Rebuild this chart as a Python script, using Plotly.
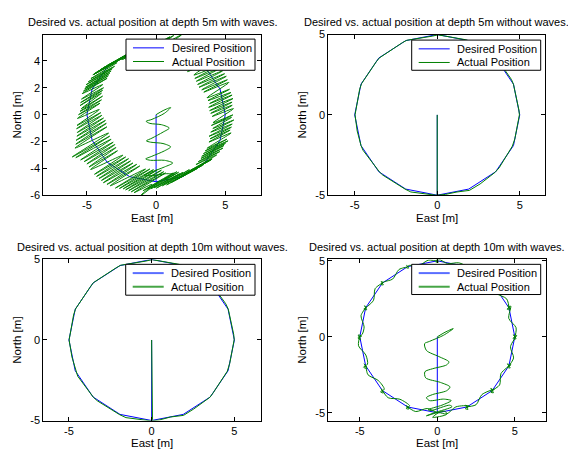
import plotly.graph_objects as go

# Desired trajectory (waypoints, metres): dive to (0,-5) then 16-sided circle of radius 5
DES_E = [0, 0, 1.91, 3.54, 4.62, 5, 4.62, 3.54, 1.91, 0, -1.91, -3.54, -4.62, -5, -4.62, -3.54, -1.91, 0]
DES_N = [0, -5, -4.62, -3.54, -1.91, 0, 1.91, 3.54, 4.62, 5, 4.62, 3.54, 1.91, 0, -1.91, -3.54, -4.62, -5]

# Actual position, depth 5 m with waves
ACT_5W = [
    (0, 0), (0.5, 0.3), (1.05, 0.53), (0.6, 0.1), (-0.3, -0.35), (-0.72, -0.5), (-0.45, -0.65), (0.4, -0.75),
    (0.95, -1.0), (0.5, -1.3), (-0.3, -1.75), (-0.7, -1.95), (-0.4, -2.05), (0.5, -2.15), (1.05, -2.4), (0.6, -2.7),
    (-0.3, -3.1), (-0.75, -3.3), (-0.4, -3.4), (0.6, -3.4), (1.2, -3.6), (0.6, -3.9), (-0.4, -4.3), (-0.8, -4.5),
    (-0.3, -4.55), (0.7, -4.4), (1.3, -4.45), (0.6, -4.8),
    (1.24, -4.34), (-0.95, -5.67), (1.5, -4.25), (-0.6, -5.55), (1.63, -4.29), (-0.38, -5.52), (1.7, -4.4), (-0.15, -5.45),
    (1.94, -4.30), (0.01, -5.48), (2.4, -4.1), (0.45, -5.3), (2.68, -4.05), (0.76, -5.23),
    (2.97, -4.02), (1.09, -5.05), (3.3, -3.8), (1.45, -4.85), (3.46, -3.70), (1.76, -4.63), (3.8, -3.45), (1.85, -4.55),
    (3.95, -3.38), (1.99, -4.46), (4.05, -3.3), (2.25, -4.3), (4.01, -3.31), (2.48, -4.15),
    (4.38, -3.0), (2.88, -3.72), (4.6, -2.75), (3.05, -3.5), (4.83, -2.49), (3.24, -3.26), (4.9, -2.3), (3.3, -3.1),
    (5.01, -2.14), (3.42, -2.90), (5.2, -1.95), (3.55, -2.7), (5.11, -1.83), (3.69, -2.50),
    (5.42, -1.36), (3.82, -2.04), (5.35, -1.15), (3.9, -1.8), (5.44, -0.93), (3.83, -1.61), (5.5, -0.7), (3.95, -1.3),
    (5.61, -0.40), (4.10, -1.03), (5.45, -0.2), (4.0, -0.8), (5.54, -0.02), (4.11, -0.60),
    (5.59, 0.45), (4.06, -0.13), (5.5, 0.7), (3.95, 0.1), (5.49, 0.93), (3.87, 0.30), (5.55, 1.2), (3.8, 0.55),
    (5.49, 1.46), (3.87, 0.83), (5.4, 1.65), (3.75, 1.05), (5.30, 1.89), (3.68, 1.26),
    (5.26, 2.40), (3.45, 1.68), (5.15, 2.6), (3.3, 1.85), (5.07, 2.86), (3.10, 2.04), (4.95, 3.05), (3.0, 2.25),
    (4.80, 3.26), (2.91, 2.49), (4.6, 3.45), (2.8, 2.7), (4.45, 3.62), (2.73, 2.95),
    (4.31, 4.10), (2.27, 3.21), (3.90, 4.36), (1.78, 3.43), (3.59, 4.68), (1.46, 3.75), (3.09, 4.90), (0.97, 3.97),
    (2.93, 5.28), (0.51, 4.10), (2.54, 5.43), (-0.06, 4.15), (2.15, 5.57), (-0.45, 4.29), (1.84, 5.95), (-0.85, 4.44),
    (1.28, 5.9), (-1.49, 4.29), (1.0, 5.8), (-1.7, 4.3), (0.72, 5.62), (-1.88, 4.24), (0.45, 5.6), (-2.2, 4.15),
    (0.15, 5.48), (-2.45, 4.10), (-0.1, 5.45), (-2.6, 4.1), (-0.42, 5.33), (-2.84, 4.05),
    (-0.88, 5.20), (-3.53, 3.67), (-1.1, 5.0), (-3.8, 3.5), (-1.38, 4.88), (-4.02, 3.36), (-1.7, 4.7), (-4.25, 3.2),
    (-1.95, 4.51), (-4.42, 3.09), (-2.2, 4.35), (-4.5, 3.0), (-2.45, 4.19), (-4.57, 2.97),
    (-2.82, 3.88), (-4.71, 2.69), (-3.0, 3.6), (-4.9, 2.45), (-3.17, 3.42), (-5.06, 2.23), (-3.25, 3.25), (-5.1, 2.05),
    (-3.36, 3.07), (-5.16, 1.92), (-3.45, 2.9), (-5.25, 1.75), (-3.54, 2.71), (-5.34, 1.57),
    (-3.86, 2.24), (-5.39, 1.16), (-3.8, 2.0), (-5.45, 0.9), (-3.87, 1.81), (-5.49, 0.68), (-3.95, 1.6), (-5.4, 0.45),
    (-3.87, 1.38), (-5.49, 0.25), (-3.95, 1.1), (-5.6, 0.0), (-4.06, 0.85), (-5.68, -0.28),
    (-4.11, 0.38), (-5.71, -0.80), (-4.0, 0.15), (-5.75, -1.05), (-3.92, -0.05), (-5.70, -1.33), (-3.8, -0.25), (-5.72, -1.6),
    (-3.66, -0.43), (-5.78, -1.91), (-3.6, -0.65), (-5.8, -2.2), (-3.56, -0.91), (-5.86, -2.49),
    (-3.43, -1.37), (-6.06, -3.15), (-3.35, -1.6), (-5.8, -3.2), (-3.25, -1.83), (-5.45, -3.37), (-3.1, -2.05), (-5.2, -3.5),
    (-2.98, -2.23), (-5.0, -3.67), (-2.9, -2.45), (-4.85, -3.9), (-2.79, -2.69), (-4.73, -4.08),
    (-2.40, -3.02), (-4.45, -4.44), (-2.2, -3.15), (-4.3, -4.6), (-1.99, -3.28), (-4.13, -4.76), (-1.85, -3.45), (-3.95, -4.9),
    (-1.67, -3.60), (-3.81, -5.07), (-1.4, -3.7), (-3.55, -5.2), (-1.18, -3.82), (-3.32, -5.30),
    (-0.76, -4.05), (-2.94, -5.47), (-0.45, -4.05), (-2.65, -5.5), (-0.19, -4.10), (-2.38, -5.53), (0.1, -4.1), (-2.2, -5.6),
    (0.38, -4.14), (-1.98, -5.66), (0.55, -4.25), (-1.8, -5.75), (0.68, -4.34), (-1.59, -5.81),
    (-0.3, -5.2), (-1.2, -6.1), (0.2, -5.0),
]

# Actual position, depth 5 m without waves
ACT_5 = [
    (0, 0), (0.02, -2.5), (0.04, -4.9), (0.0, -5.0), (0.5, -4.95), (1.2, -4.8), (1.95, -4.7), (2.6, -4.3),
    (3.5, -3.58), (3.75, -3.3), (4.55, -1.95), (4.7, -1.5), (4.98, 0.0), (4.95, 0.3), (4.62, 1.9), (4.5, 2.2),
    (3.58, 3.55), (3.4, 3.7), (1.95, 4.6), (1.7, 4.68), (0.05, 4.98), (-0.3, 4.9), (-1.85, 4.64), (-2.1, 4.5),
    (-3.5, 3.55), (-3.7, 3.3), (-4.58, 1.95), (-4.7, 1.6), (-4.98, 0.0), (-4.85, -1.0), (-4.62, -1.9), (-4.5, -2.2),
    (-3.5, -3.55), (-3.3, -3.75), (-1.95, -4.62), (-1.6, -4.8), (-0.1, -5.0), (0, -5.0),
]

# Actual position, depth 10 m without waves
ACT_10 = [
    (0, 0), (0.03, -2.5), (0.05, -4.95), (0.0, -5.02), (0.45, -4.97), (1.15, -4.78), (1.93, -4.68), (2.55, -4.28),
    (3.52, -3.56), (3.72, -3.28), (4.57, -1.94), (4.72, -1.45), (4.99, 0.02), (4.96, 0.35), (4.63, 1.92), (4.48, 2.25),
    (3.56, 3.56), (3.38, 3.72), (1.93, 4.62), (1.65, 4.7), (0.02, 4.99), (-0.35, 4.9), (-1.88, 4.64), (-2.15, 4.48),
    (-3.52, 3.56), (-3.72, 3.28), (-4.6, 1.93), (-4.72, 1.55), (-4.99, 0.0), (-4.82, -1.05), (-4.6, -1.92), (-4.47, -2.25),
    (-3.52, -3.56), (-3.28, -3.78), (-1.93, -4.64), (-1.55, -4.82), (-0.05, -5.02), (0, -5.0),
]

# Actual position, depth 10 m with waves
ACT_10W = [
    (0, 0), (0.5, 0.3), (1.03, 0.54), (0.4, 0.1), (-0.5, -0.3), (-0.82, -0.45), (-0.7, -0.9), (0.1, -1.3),
    (0.75, -1.65), (0.6, -1.85), (-0.3, -2.1), (-0.8, -2.3), (-0.75, -2.7), (0.2, -3.0), (0.82, -3.3), (0.6, -3.55),
    (-0.3, -3.8), (-0.7, -4.0), (-0.5, -4.2), (0.4, -4.1), (0.9, -4.2), (0.3, -4.5), (-0.6, -4.8), (-0.4, -4.85),
    (0.8, -4.5), (0.95, -4.6), (-0.2, -5.0), (-0.7, -5.2), (0.5, -4.9), (0.6, -5.1), (-0.3, -5.3), (0.1, -5.0),
    (0.60, -5.08), (1.20, -4.61),
    (2.05, -4.55), (1.80, -4.72), (1.98, -4.78), (1.82, -4.50), (2.0, -4.6), (1.85, -4.68), (1.93, -4.62),
    (2.50, -4.47), (2.88, -3.80),
    (3.68, -3.45), (3.44, -3.64), (3.62, -3.68), (3.45, -3.40), (3.6, -3.5), (3.5, -3.6), (3.55, -3.53),
    (4.02, -3.17), (4.11, -2.41),
    (4.76, -1.82), (4.52, -2.0), (4.70, -2.05), (4.52, -1.78), (4.68, -1.88), (4.58, -1.96), (4.63, -1.9),
    (4.92, -1.39), (4.72, -0.65),
    (5.12, 0.1), (4.88, -0.1), (5.08, -0.14), (4.9, 0.13), (5.05, 0.02), (4.95, -0.05), (5.0, 0.0),
    (5.08, 0.60), (4.61, 1.21),
    (4.74, 2.02), (4.5, 1.82), (4.7, 1.78), (4.55, 2.05), (4.68, 1.95), (4.58, 1.86), (4.62, 1.92),
    (4.47, 2.50), (3.80, 2.88),
    (3.6, 3.6), (3.48, 3.5), (3.54, 3.54),
    (3.14, 3.98), (2.43, 4.16),
    (1.98, 4.68), (1.85, 4.57), (1.91, 4.62),
    (1.38, 4.87), (0.66, 4.82),
    (0.12, 5.08), (-0.1, 4.92), (0.08, 4.92), (-0.06, 5.06), (0, 5),
    (-0.59, 5.04), (-1.22, 4.66),
    (-1.8, 4.7), (-2.0, 4.55), (-1.85, 4.52), (-1.98, 4.7), (-1.88, 4.6), (-1.95, 4.66), (-1.91, 4.62),
    (-2.47, 4.43), (-2.88, 3.80),
    (-3.42, 3.62), (-3.64, 3.45), (-3.48, 3.42), (-3.62, 3.64), (-3.5, 3.58), (-3.58, 3.5), (-3.54, 3.54),
    (-4.01, 3.17), (-4.11, 2.41),
    (-4.5, 2.0), (-4.74, 1.82), (-4.55, 1.78), (-4.7, 2.04), (-4.58, 1.95), (-4.66, 1.86), (-4.62, 1.91),
    (-4.92, 1.39), (-4.72, 0.65),
    (-4.85, 0.15), (-5.12, -0.08), (-4.95, -0.18), (-5.1, 0.12), (-4.9, 0.05), (-5.05, -0.1), (-4.95, 0.08), (-5, 0),
    (-5.08, -0.59), (-4.61, -1.20),
    (-4.5, -1.8), (-4.76, -2.0), (-4.55, -2.08), (-4.72, -1.78), (-4.58, -1.95), (-4.66, -1.86), (-4.62, -1.9),
    (-4.47, -2.50), (-3.80, -2.88),
    (-3.42, -3.45), (-3.66, -3.62), (-3.48, -3.7), (-3.62, -3.42), (-3.5, -3.58), (-3.58, -3.5), (-3.54, -3.54),
    (-3.17, -4.01), (-2.41, -4.11),
    (-1.78, -4.55), (-2.02, -4.7), (-1.85, -4.76), (-1.98, -4.52), (-1.88, -4.66), (-1.95, -4.58), (-1.91, -4.62),
    (-1.39, -4.92), (-0.65, -4.72), (0, -5.0),
]

TITLES = [
    "Desired vs. actual position at depth 5m with waves.",
    "Desired vs. actual position at depth 5m without waves.",
    "Desired vs. actual position at depth 10m without waves.",
    "Desired vs. actual position at depth 10m with waves.",
]
LEGEND_NAMES = ["Desired Position", "Actual Position"]
X_TICKS = [-5, 0, 5]
Y_TICKS = [[-6, -4, -2, 0, 2, 4], [-5, 0, 5], [-5, 0, 5], [-5, 0, 5]]
X_RANGES = [[-8.15, 7.58], [-6.6, 6.53], [-6.55, 6.61], [-7.03, 7.03]]
Y_RANGES = [[-6.0, 5.97], [-5.0, 5.0], [-5.0, 5.0], [-5.51, 5.09]]
ACTUALS = [ACT_5W, ACT_5, ACT_10, ACT_10W]
WAVY = [True, False, False, True]

W, H = 568, 457
# axes boxes in pixels: (left, right, top, bottom)
BOXES = [(43.3, 261.0, 29.3, 194.3), (328.3, 545.0, 29.3, 194.3),
         (43.3, 261.0, 260.3, 425.7), (328.3, 546.3, 260.3, 425.7)]
# legend boxes in pixels: (left, top, right, bottom)
LEGEND_BOXES = [(126, 34, 255, 66), (411.7, 35, 540.7, 66),
                (125.7, 265.3, 255, 297), (411.7, 265.3, 540.7, 296.3)]
XLABEL_GAP = [23.5, 23.5, 22.8, 22.8]

BLUE = "rgb(0,0,255)"
GREEN = "rgb(0,128,0)"
LEG_COLORS = [[BLUE, GREEN], [BLUE, GREEN],
              ["rgb(90,110,255)", "rgb(70,165,70)"], ["rgb(90,110,255)", "rgb(70,165,70)"]]
LEG_WIDTHS = [1, 1, 2, 2]
FONT = "Liberation Sans, Arial, Helvetica, sans-serif"


def px(x):
    return x / W


def py(y):
    return 1 - y / H


fig = go.Figure()
layout = dict(width=W, height=H, margin=dict(l=0, r=0, t=0, b=0),
              paper_bgcolor="white", plot_bgcolor="white", showlegend=False,
              font=dict(family=FONT, size=11, color="black"))
annotations = []
shapes = []
for i in range(4):
    sfx = "" if i == 0 else str(i + 1)
    xa, ya = "x" + sfx, "y" + sfx
    ae = [p[0] for p in ACTUALS[i]]
    an = [p[1] for p in ACTUALS[i]]
    fig.add_trace(go.Scatter(x=DES_E, y=DES_N, mode="lines", name=LEGEND_NAMES[0],
                             line=dict(color=BLUE, width=1), xaxis=xa, yaxis=ya))
    fig.add_trace(go.Scatter(x=ae, y=an, mode="lines", name=LEGEND_NAMES[1],
                             line=dict(color=GREEN, width=1,
                                       shape="spline" if WAVY[i] else "linear", smoothing=0.8),
                             xaxis=xa, yaxis=ya))
    l, r, t, b = BOXES[i]
    common = dict(ticks="inside", ticklen=4, tickwidth=1, tickcolor="black",
                  showline=True, linecolor="black", linewidth=1, mirror="ticks",
                  showgrid=False, zeroline=False, tickfont=dict(size=11, family=FONT))
    layout["xaxis" + sfx] = dict(domain=[px(l), px(r)], range=X_RANGES[i], anchor=ya,
                                 tickvals=X_TICKS, ticktext=[str(v) for v in X_TICKS],
                                 ticklabelstandoff=0, **common)
    layout["yaxis" + sfx] = dict(domain=[py(b), py(t)], range=Y_RANGES[i], anchor=xa,
                                 tickvals=Y_TICKS[i], ticktext=[str(v) for v in Y_TICKS[i]], **common)
    # legend box
    gl, gt, gr, gb = LEGEND_BOXES[i]
    shapes.append(dict(type="rect", xref="paper", yref="paper", x0=px(gl), x1=px(gr), y0=py(gb), y1=py(gt),
                       fillcolor="white", line=dict(color="black", width=1), layer="above"))
    for k in range(2):
        yy = gt + 9 + 14 * k
        shapes.append(dict(type="line", xref="paper", yref="paper", x0=px(gl + 7), x1=px(gl + 38),
                           y0=py(yy), y1=py(yy), layer="above",
                           line=dict(color=LEG_COLORS[i][k], width=LEG_WIDTHS[i])))
        annotations.append(dict(text=LEGEND_NAMES[k], x=px(gl + 43.5), y=py(yy), xref="paper", yref="paper",
                                xanchor="left", yanchor="middle", showarrow=False,
                                font=dict(size=11, family=FONT)))
    cx = (l + r) / 2
    annotations.append(dict(text=TITLES[i], x=px(cx), y=py(t - 13), xref="paper", yref="paper",
                            xanchor="center", yanchor="middle", showarrow=False,
                            font=dict(size=11, family=FONT)))
    annotations.append(dict(text="East [m]", x=px(cx), y=py(b + XLABEL_GAP[i]), xref="paper", yref="paper",
                            xanchor="center", yanchor="middle", showarrow=False,
                            font=dict(size=11.5, family=FONT)))
    annotations.append(dict(text="North [m]", x=px(l - 26.6), y=py((t + b) / 2),
                            xref="paper", yref="paper", textangle=-90,
                            xanchor="center", yanchor="middle", showarrow=False,
                            font=dict(size=11.5, family=FONT)))
layout["annotations"] = annotations
layout["shapes"] = shapes
fig.update_layout(**layout)
fig.write_html("out.html")
